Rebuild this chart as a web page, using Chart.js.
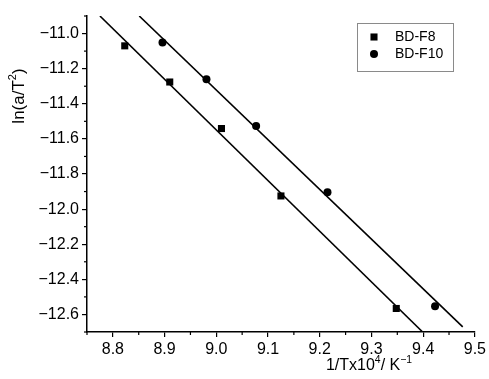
<!DOCTYPE html>
<html>
<head>
<meta charset="utf-8">
<script src="https://cdn.jsdelivr.net/npm/chart.js@4"></script>
<style>
  html, body { margin: 0; padding: 0; background: #fff; }
</style>
</head>
<body>
<canvas id="grafico" width="489" height="379"></canvas>
<script>
// Dados
const nomesSeries = ['BD-F8', 'BD-F10'];
const f8X = [8.823, 8.910, 9.010, 9.125, 9.348];
const f8Y = [-11.070, -11.276, -11.541, -11.925, -12.566];
const f10X = [8.896, 8.981, 9.077, 9.215, 9.423];
const f10Y = [-11.051, -11.260, -11.526, -11.904, -12.553];

// Retas de ajuste (extremos)
const ajusteF8X = [8.775, 9.399];
const ajusteF8Y = [-10.9, -12.7];
const ajusteF10X = [8.851, 9.4765];
const ajusteF10Y = [-10.9, -12.671];

// Marcas dos eixos
const xTicks = [8.8, 8.9, 9.0, 9.1, 9.2, 9.3, 9.4, 9.5];
const xMinor = [8.75, 8.85, 8.95, 9.05, 9.15, 9.25, 9.35, 9.45];
const yTicks = [-12.6, -12.4, -12.2, -12.0, -11.8, -11.6, -11.4, -11.2, -11.0];
const yMinor = [-12.7, -12.5, -12.3, -12.1, -11.9, -11.7, -11.5, -11.3, -11.1, -10.9];

const pares = (xs, ys) => xs.map((x, i) => ({ x: x, y: ys[i] }));
const fonte = '"Liberation Sans", Arial, sans-serif';

Chart.defaults.font.family = fonte;
Chart.defaults.color = '#000';

// desenha texto com partes sobrescritas
function textoComSobrescrito(ctx, partes, x, y, tam) {
    let largura = 0;
    partes.forEach(p => {
        ctx.font = (p[1] ? tam * 0.65 : tam) + 'px ' + fonte;
        largura += ctx.measureText(p[0]).width;
    });
    let cx = x - largura / 2;
    ctx.textAlign = 'left';
    ctx.textBaseline = 'middle';
    partes.forEach(p => {
        ctx.font = (p[1] ? tam * 0.65 : tam) + 'px ' + fonte;
        ctx.fillText(p[0], cx, p[1] ? y - tam * 0.38 : y);
        cx += ctx.measureText(p[0]).width;
    });
}

const extras = {
    id: 'extras',
    afterDraw(chart) {
        const ctx = chart.ctx;
        const xs = chart.scales.x, ys = chart.scales.y;
        const area = chart.chartArea;
        ctx.save();
        ctx.strokeStyle = '#000';
        ctx.lineWidth = 1.2;
        // marcas menores
        xMinor.forEach(v => {
            const px = xs.getPixelForValue(v);
            ctx.beginPath();
            ctx.moveTo(px, area.bottom);
            ctx.lineTo(px, area.bottom + 3);
            ctx.stroke();
        });
        yMinor.forEach(v => {
            const py = ys.getPixelForValue(v);
            ctx.beginPath();
            ctx.moveTo(area.left, py);
            ctx.lineTo(area.left - 3, py);
            ctx.stroke();
        });

        // titulos dos eixos
        ctx.fillStyle = '#000';
        textoComSobrescrito(ctx, [['1/Tx10', false], ['4', true], ['/ K', false], ['\u2212' + '1', true]],
            area.left + (area.right - area.left) * 0.727, 366, 16);
        ctx.save();
        ctx.translate(19, 96);
        ctx.rotate(-Math.PI / 2);
        textoComSobrescrito(ctx, [['ln(a/T', false], ['2', true], [')', false]], 0, 0, 17);
        ctx.restore();

        // legenda
        const lx = 357, ly = 23, lw = 96, lh = 48;
        ctx.strokeStyle = '#8a8a8a';
        ctx.lineWidth = 1;
        ctx.strokeRect(lx + 0.5, ly + 0.5, lw, lh);
        ctx.fillStyle = '#000';
        ctx.font = '14px ' + fonte;
        ctx.textAlign = 'left';
        ctx.textBaseline = 'middle';
        nomesSeries.forEach((nome, i) => {
            const my = ly + 14 + i * 17;
            const ds = chart.data.datasets[i];
            Chart.helpers.drawPoint(ctx, {
                pointStyle: ds.pointStyle, radius: ds.pointRadius, borderWidth: 0
            }, lx + 17, my);
            ctx.fillText(nome, lx + 38, my);
        });
        ctx.restore();
    }
};

const ctx = document.getElementById('grafico').getContext('2d');
const grafico = new Chart(ctx, {
    type: 'scatter',
    data: {
        datasets: [
            {
                label: nomesSeries[0],
                data: pares(f8X, f8Y),
                pointStyle: 'rect',
                pointRadius: 5,
                backgroundColor: '#000',
                borderColor: '#000',
                borderWidth: 0
            },
            {
                label: nomesSeries[1],
                data: pares(f10X, f10Y),
                pointStyle: 'circle',
                pointRadius: 4,
                backgroundColor: '#000',
                borderColor: '#000',
                borderWidth: 0
            },
            {
                label: 'ajuste F8',
                data: pares(ajusteF8X, ajusteF8Y),
                showLine: true,
                pointRadius: 0,
                borderColor: '#000',
                borderWidth: 1.6
            },
            {
                label: 'ajuste F10',
                data: pares(ajusteF10X, ajusteF10Y),
                showLine: true,
                pointRadius: 0,
                borderColor: '#000',
                borderWidth: 1.6
            }
        ]
    },
    options: {
        responsive: false,
        animation: false,
        layout: { padding: { top: 16, right: 14, left: 0, bottom: 0 } },
        plugins: {
            legend: { display: false },
            tooltip: { enabled: false }
        },
        scales: {
            x: {
                type: 'linear',
                min: 8.75,
                max: 9.5,
                afterBuildTicks: s => { s.ticks = xTicks.map(v => ({ value: v })); },
                afterFit: s => { s.height = 47; },
                border: { color: '#000', width: 1.5 },
                grid: { drawOnChartArea: false, tickLength: 5, color: '#000', lineWidth: 1.2 },
                ticks: {
                    padding: 3,
                    maxRotation: 0,
                    autoSkip: false,
                    font: { size: 16 },
                    callback: v => v.toFixed(1)
                }
            },
            y: {
                type: 'linear',
                min: -12.7,
                max: -10.9,
                afterBuildTicks: s => { s.ticks = yTicks.map(v => ({ value: v })); },
                afterFit: s => { s.width = 87; },
                border: { color: '#000', width: 1.5 },
                grid: { drawOnChartArea: false, tickLength: 5, color: '#000', lineWidth: 1.2 },
                ticks: {
                    padding: 3,
                    autoSkip: false,
                    font: { size: 16 },
                    callback: v => v.toFixed(1).replace('-', '\u2212')
                }
            }
        }
    },
    plugins: [extras]
});
</script>
</body>
</html>
